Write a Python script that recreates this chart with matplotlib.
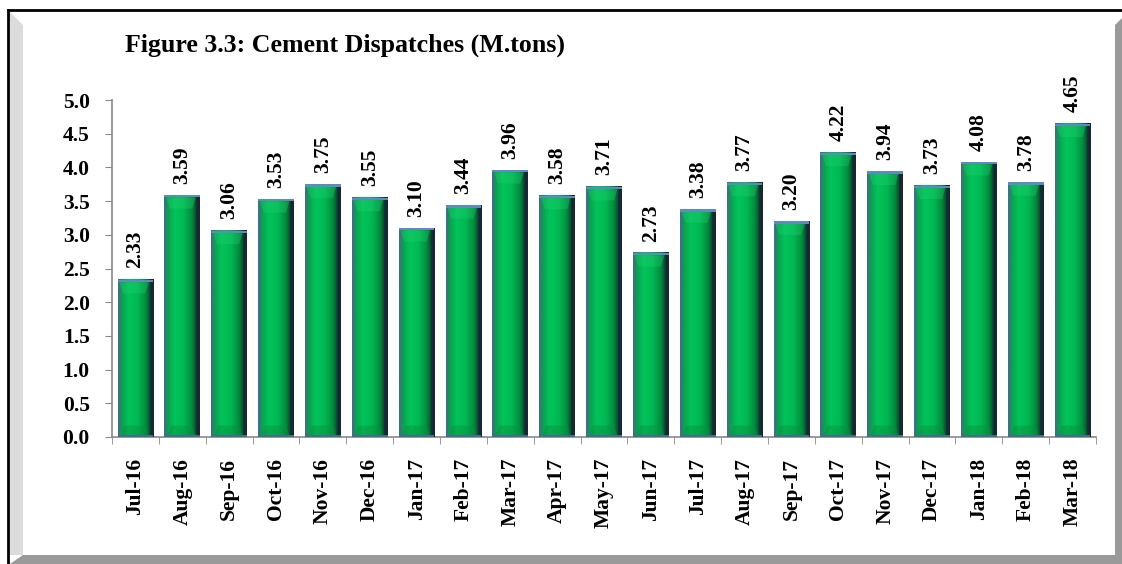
import matplotlib
matplotlib.use("Agg")
import matplotlib.pyplot as plt
import numpy as np
from matplotlib.colors import LinearSegmentedColormap
from matplotlib.patches import Polygon, Rectangle

months = ["Jul-16", "Aug-16", "Sep-16", "Oct-16", "Nov-16", "Dec-16", "Jan-17",
          "Feb-17", "Mar-17", "Apr-17", "May-17", "Jun-17", "Jul-17", "Aug-17",
          "Sep-17", "Oct-17", "Nov-17", "Dec-17", "Jan-18", "Feb-18", "Mar-18"]
dispatches = [2.33, 3.59, 3.06, 3.53, 3.75, 3.55, 3.10, 3.44, 3.96, 3.58, 3.71,
              2.73, 3.38, 3.77, 3.20, 4.22, 3.94, 3.73, 4.08, 3.78, 4.65]
yticks = [0.0, 0.5, 1.0, 1.5, 2.0, 2.5, 3.0, 3.5, 4.0, 4.5, 5.0]
title = "Figure 3.3: Cement Dispatches (M.tons)"

W, H = 1122, 564
fig = plt.figure(figsize=(W / 100, H / 100), dpi=100)
fig.patch.set_facecolor("white")

def px(x, y):
    return (x / W, 1 - y / H)

# frame
fig.add_artist(Polygon([px(10, 12), px(23, 25), px(23, 555), px(10, 555)],
                       closed=True, transform=fig.transFigure, facecolor="#dcdcdc", edgecolor="none"))
fig.add_artist(Polygon([px(10, 564), px(23, 555), px(1115, 555), px(1122, 555), px(1122, 564)],
                       closed=True, transform=fig.transFigure, facecolor="#9a9a9a", edgecolor="none"))
fig.add_artist(Polygon([px(1115, 25), px(1122, 18), px(1122, 564), px(1115, 555)],
                       closed=True, transform=fig.transFigure, facecolor="#9a9a9a", edgecolor="none"))
fig.add_artist(plt.Line2D([8 / W, 1], [1 - 10 / H, 1 - 10 / H], transform=fig.transFigure,
                          color="black", lw=2))
fig.add_artist(plt.Line2D([8 / W, 8 / W], [1 - 10 / H, 0], transform=fig.transFigure,
                          color="black", lw=2))

FS = 15.5
ax = fig.add_axes([112 / W, 1 - 437 / H, (1096 - 112) / W, (437 - 100) / H])
ax.set_facecolor("none")
x = np.arange(len(months))
bars = ax.bar(x, dispatches, width=0.76, color="#00b050", edgecolor="none", zorder=2)

cmap = LinearSegmentedColormap.from_list("g", [
    (0.0, "#3f6f8f"), (0.05, "#3f6f8f"), (0.07, "#0c9a4c"), (0.3, "#00c45a"),
    (0.55, "#00b853"), (0.78, "#008a3c"), (0.87, "#0a5a30"), (0.91, "#162a38"), (1.0, "#1a2438")])
grad = np.linspace(0, 1, 256).reshape(1, -1)
for b in bars:
    x0, w, h = b.get_x(), b.get_width(), b.get_height()
    ax.imshow(grad, extent=(x0, x0 + w, 0, h), aspect="auto", cmap=cmap, zorder=3,
              interpolation="bilinear")
    # top cap
    ax.add_patch(Rectangle((x0, h - 0.035), w, 0.035, facecolor="#5a8cc0", edgecolor="none", zorder=4))
    ax.add_patch(Polygon([(x0 + 0.03, h - 0.035), (x0 + w * 0.88, h - 0.035), (x0 + w * 0.78, h - 0.2),
                          (x0 + 0.12, h - 0.2)], closed=True, facecolor="#20d070", alpha=0.35,
                         edgecolor="none", zorder=4))
    # bottom bevel
    ax.add_patch(Polygon([(x0 + 0.06, 0.0), (x0 + w - 0.08, 0.0), (x0 + w * 0.78, 0.17), (x0 + 0.14, 0.17)],
                         closed=True, facecolor="#089040", alpha=0.45, edgecolor="none", zorder=4))
    ax.add_patch(Rectangle((x0, 0), w, 0.03, facecolor="#3f6f8f", edgecolor="none", zorder=4))
    ax.text(b.get_x() + w / 2, h + 0.17, f"{h:.2f}", rotation=90, ha="center", va="bottom",
            fontsize=FS, fontweight="bold", family="Liberation Serif", zorder=5)

ax.set_xlim(-0.5, len(months) - 0.5)
ax.set_ylim(0, 5)
ax.set_yticks(yticks)
ax.set_yticklabels([f"{v:.1f}" for v in yticks], fontsize=FS, fontweight="bold",
                   family="Liberation Serif")
ax.set_xticks(x)
ax.set_xticklabels(months, rotation=90, fontsize=FS, fontweight="bold", family="Liberation Serif")
ax.set_xticks(np.arange(len(months) + 1) - 0.5, minor=True)
ax.tick_params(axis="x", which="major", length=0, pad=15)
ax.tick_params(axis="x", which="minor", length=5, color="#888888", direction="out")
ax.tick_params(axis="y", length=5, color="#888888", pad=11)
for s in ["top", "right"]:
    ax.spines[s].set_visible(False)
for s in ["left", "bottom"]:
    ax.spines[s].set_color("#888888")
    ax.spines[s].set_linewidth(1.2)

fig.text(125 / W, 1 - 45 / H, title, fontsize=18.6, fontweight="bold", family="Liberation Serif",
         ha="left", va="center")

fig.savefig("out.png", dpi=100)
